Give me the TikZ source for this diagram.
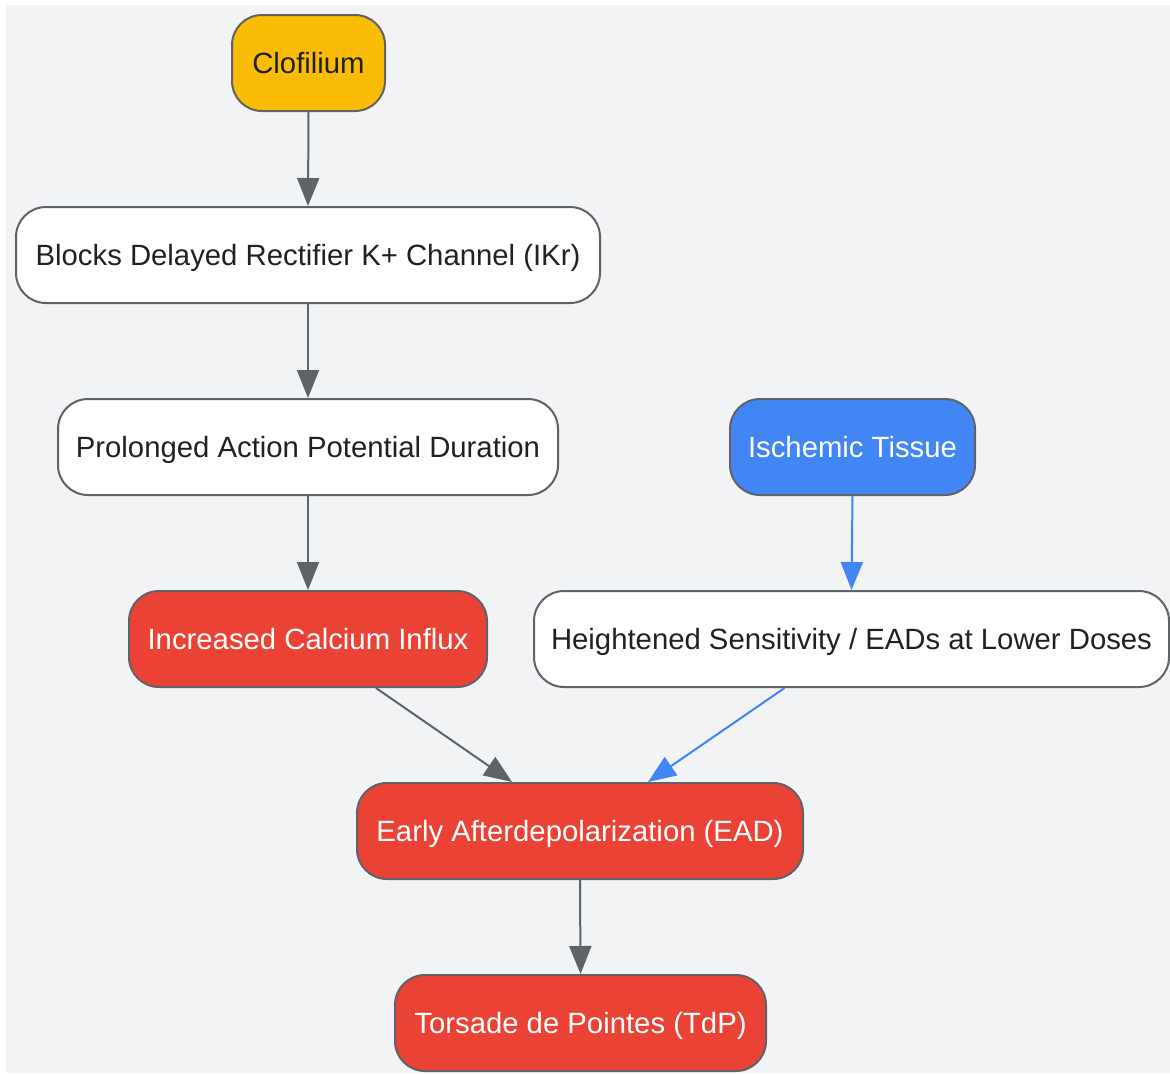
\documentclass[tikz,border=0pt]{standalone}
\usepackage{fontspec}
\setmainfont{Liberation Sans}
\usetikzlibrary{arrows.meta}
\definecolor{bg}{HTML}{F1F3F5}
\definecolor{edge}{HTML}{5F6368}
\definecolor{gold}{HTML}{FBBC05}
\definecolor{gblue}{HTML}{4285F4}
\definecolor{gred}{HTML}{EA4335}
\definecolor{txt}{HTML}{202124}
\tikzset{
  x=1pt, y=-1pt,
  box/.style={draw=edge, line width=2pt, rounded corners=30pt, minimum height=96pt,
    inner sep=0pt, text height=20pt, text depth=0pt,
    font=\fontsize{29.3}{32}\selectfont, text=txt, fill=white},
  wbox/.style={box, text=white},
  conn/.style={draw=edge, line width=2pt, -{Triangle[length=28pt,width=22pt]}},
  bconn/.style={conn, draw=gblue},
}
\begin{document}
\begin{tikzpicture}
\useasboundingbox (0,0) rectangle (1170,1074);
\fill[bg] (6,5) rectangle (1170,1073);
\node[box, fill=gold, minimum width=153pt] (clo) at (308.5,63) {Clofilium};
\node[box, minimum width=584pt] (blk) at (308,255) {Blocks Delayed Rectifier K+ Channel (IKr)};
\node[box, minimum width=500pt] (apd) at (308,447) {Prolonged Action Potential Duration};
\node[wbox, fill=gblue, minimum width=245pt] (isc) at (852.5,447) {Ischemic Tissue};
\node[wbox, fill=gred, minimum width=358pt] (cal) at (308,639) {Increased Calcium Influx};
\node[box, minimum width=635pt] (sen) at (851.5,639) {Heightened Sensitivity / EADs at Lower Doses};
\node[wbox, fill=gred, minimum width=446pt] (ead) at (580,831) {Early Afterdepolarization (EAD)};
\node[wbox, fill=gred, minimum width=371pt] (tdp) at (580.5,1023) {Torsade de Pointes (TdP)};
\draw[conn] (clo.south) -- (blk.north);
\draw[conn] (blk.south) -- (apd.north);
\draw[conn] (apd.south) -- (cal.north);
\draw[bconn] (isc.south) -- (sen.north);
\draw[conn] ([xshift=68pt]cal.south) -- ([xshift=-68pt]ead.north);
\draw[bconn] ([xshift=-67pt]sen.south) -- ([xshift=68pt]ead.north);
\draw[conn] (ead.south) -- (tdp.north);
\end{tikzpicture}
\end{document}
